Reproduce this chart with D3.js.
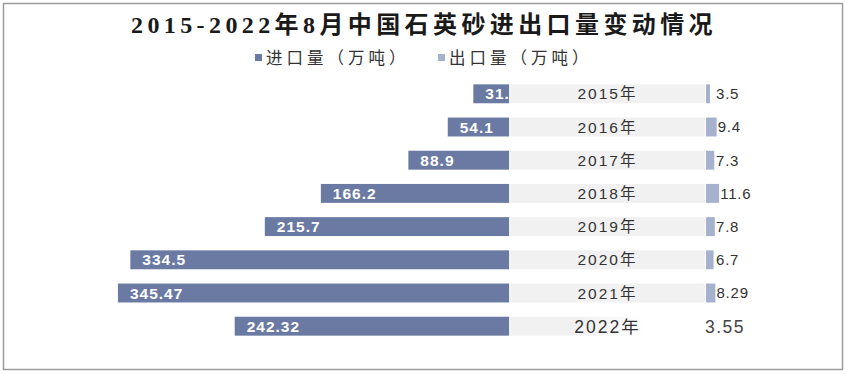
<!DOCTYPE html>
<html>
<head>
<meta charset="utf-8">
<script src="https://cdn.jsdelivr.net/npm/d3@7"></script>
<style>
  body { margin: 0; background: #fff; }
  svg { display: block; font-family: "Liberation Sans", "Noto Sans CJK SC", sans-serif; }
</style>
</head>
<body>
<svg id="chart" width="848" height="374"></svg>
<script>
const width = 848;
const height = 374;

// data
const years = ["2015年", "2016年", "2017年", "2018年", "2019年", "2020年", "2021年", "2022年"];
const importVals = [31.5, 54.1, 88.9, 166.2, 215.7, 334.5, 345.47, 242.32];
const exportVals = [3.5, 9.4, 7.3, 11.6, 7.8, 6.7, 8.29, 3.55];
const seriesNames = ["进口量（万吨）", "出口量（万吨）"];
const colors = ["#6a7aa3", "#a6b1cd"];

const svg = d3.select("#chart");

const rows = years.map((y, i) => ({ year: y, imp: importVals[i], exp: exportVals[i] }));
const last = rows.length - 1;

// frame
svg.append("rect")
  .attr("x", 3.5).attr("y", 3.5)
  .attr("width", 839).attr("height", 366)
  .attr("fill", "#fff")
  .attr("stroke", "#9c9c9c")
  .attr("stroke-width", 1.5);

// scales
const y = d3.scaleBand()
  .domain(years)
  .range([77.2, 342.8])
  .paddingInner(0.43)
  .paddingOuter(0.215);

const centerLeft = 509;
const centerRight = 706;
const pxPerUnit = 1.132;

const xImp = d3.scaleLinear().domain([0, 350]).range([centerLeft, centerLeft - 350 * pxPerUnit]);
const xExp = d3.scaleLinear().domain([0, 20]).range([centerRight, centerRight + 20 * pxPerUnit]);

// gradient for last row (faded)
const defs = svg.append("defs");
const fade = defs.append("linearGradient").attr("id", "fade");
fade.append("stop").attr("offset", "0%").attr("stop-color", "#f1f1f1");
fade.append("stop").attr("offset", "35%").attr("stop-color", "#f1f1f1");
fade.append("stop").attr("offset", "70%").attr("stop-color", "#fff");

// import bars
const impG = svg.append("g");
impG.selectAll("rect")
  .data(rows)
  .join("rect")
  .attr("x", (d) => xImp(d.imp))
  .attr("y", (d) => y(d.year))
  .attr("width", (d) => xImp(0) - xImp(d.imp))
  .attr("height", y.bandwidth())
  .attr("fill", colors[0]);

impG.selectAll("text")
  .data(rows)
  .join("text")
  .attr("x", (d) => xImp(d.imp) + 12)
  .attr("y", (d) => y(d.year) + y.bandwidth() / 2)
  .attr("dy", "0.36em")
  .attr("fill", "#fff")
  .attr("font-size", 15.5)
  .attr("font-weight", 600)
  .attr("letter-spacing", 1)
  .text((d) => d.imp);

// year boxes (drawn over clipped labels)
svg.append("g").selectAll("rect")
  .data(rows)
  .join("rect")
  .attr("x", centerLeft)
  .attr("y", (d) => y(d.year))
  .attr("width", centerRight - centerLeft - 1)
  .attr("height", y.bandwidth())
  .attr("fill", (d, i) => (i === last ? "url(#fade)" : "#f1f1f1"));

svg.append("g").selectAll("text")
  .data(rows)
  .join("text")
  .attr("x", (centerLeft + centerRight) / 2)
  .attr("y", (d) => y(d.year) + y.bandwidth() / 2)
  .attr("dy", "0.36em")
  .attr("text-anchor", "middle")
  .attr("fill", "#333")
  .attr("font-size", (d, i) => (i === last ? 17.5 : 15.5))
  .attr("letter-spacing", 2)
  .text((d) => d.year);

// export bars
const expG = svg.append("g");
expG.selectAll("rect")
  .data(rows)
  .join("rect")
  .attr("x", xExp(0))
  .attr("y", (d) => y(d.year))
  .attr("width", (d) => xExp(d.exp) - xExp(0))
  .attr("height", y.bandwidth())
  .attr("fill", colors[1])
  .attr("opacity", (d, i) => (i === last ? 0 : 1));

expG.selectAll("text")
  .data(rows)
  .join("text")
  .attr("x", (d, i) => (i === last ? xExp(0) - 1 : Math.max(xExp(d.exp) + 1, 716)))
  .attr("y", (d) => y(d.year) + y.bandwidth() / 2)
  .attr("dy", "0.36em")
  .attr("fill", (d, i) => (i === last ? "#444" : "#333"))
  .attr("font-size", (d, i) => (i === last ? 17.5 : 15))
  .attr("letter-spacing", (d, i) => (i === last ? 1.5 : 0.8))
  .text((d) => d.exp);

// title
svg.append("text")
  .attr("x", width / 2)
  .attr("y", 33)
  .attr("text-anchor", "middle")
  .attr("font-family", "'Liberation Serif', 'Noto Sans CJK SC', serif")
  .attr("font-size", 24)
  .attr("font-weight", "bold")
  .attr("letter-spacing", 4.4)
  .attr("fill", "#1a1a1a")
  .text("2015-2022年8月中国石英砂进出口量变动情况");

// legend
const legend = svg.append("g").attr("transform", "translate(255, 58)");
const legendX = [0, 183];
seriesNames.forEach((name, i) => {
  legend.append("rect")
    .attr("x", legendX[i])
    .attr("y", -4)
    .attr("width", 7)
    .attr("height", 7)
    .attr("fill", colors[i]);
  legend.append("text")
    .attr("x", legendX[i] + 11)
    .attr("y", 0)
    .attr("dy", "0.36em")
    .attr("font-size", 16.5)
    .attr("letter-spacing", 4)
    .attr("fill", "#333")
    .text(name);
});
</script>
</body>
</html>
